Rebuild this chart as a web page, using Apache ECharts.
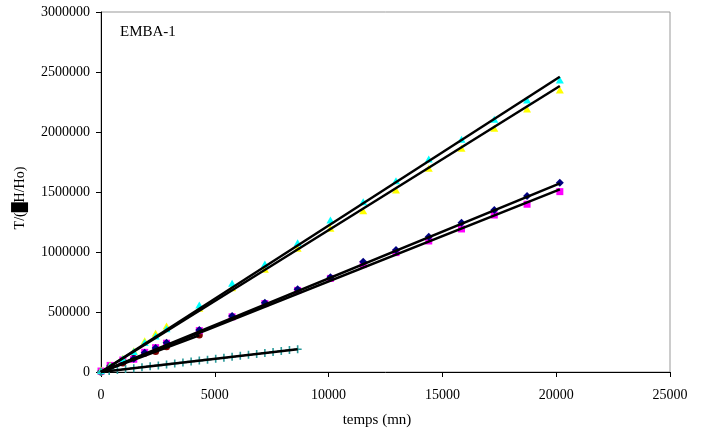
<!DOCTYPE html>
<html>
<head>
<meta charset="utf-8">
<script src="https://cdn.jsdelivr.net/npm/echarts@6/dist/echarts.min.js"></script>
<style>
html,body{margin:0;padding:0;background:#fff;}
#chart{width:707px;height:435px;}
</style>
</head>
<body>
<div id="chart"></div>
<script>
// Times (mn) for the main series
var times = [0, 400, 960, 1440, 1920, 2400, 2880, 4320, 5760, 7200, 8640, 10080, 11520, 12960, 14400, 15840, 17280, 18720, 20160];
var cyanValues = [10000, 50000, 110000, 170000, 245000, 300000, 360000, 558000, 739000, 900000, 1078000, 1267000, 1419000, 1594000, 1775000, 1939000, 2106000, 2267000, 2433000];
var yellowValues = [17000, 58000, 114000, 178000, 261000, 322000, 383000, 531000, 703000, 856000, 1031000, 1198000, 1344000, 1517000, 1698000, 1864000, 2031000, 2192000, 2350000];
var navyValues = [5000, 50000, 95000, 110000, 160000, 200000, 244000, 350000, 467000, 578000, 689000, 789000, 919000, 1017000, 1128000, 1244000, 1350000, 1467000, 1578000];
var magentaValues = [8000, 55000, 100000, 106000, 164000, 203000, 240000, 345000, 460000, 570000, 680000, 780000, 895000, 995000, 1092000, 1192000, 1308000, 1398000, 1503000];

var redTimes = [0, 400, 960, 1440, 1920, 2400, 2880, 4320];
var redValues = [0, 40000, 75000, 114000, 156000, 170000, 211000, 308000];

var tealTimes = [0, 360, 720, 1080, 1440, 1800, 2160, 2520, 2880, 3240, 3600, 3960, 4320, 4680, 5040, 5400, 5760, 6120, 6480, 6840, 7200, 7560, 7920, 8280, 8640];
var tealValues = [0, 8000, 16000, 24000, 32000, 40000, 48000, 55000, 63000, 71000, 79000, 87000, 95000, 103000, 111000, 119000, 127000, 135000, 143000, 151000, 159000, 167000, 175000, 183000, 190000];

// Trendline end points [time, value]
var trendCyan = [[0, 0], [20160, 2460000]];
var trendYellow = [[0, 0], [20160, 2383000]];
var trendNavy = [[0, 0], [20160, 1572000]];
var trendMagenta = [[0, 0], [20160, 1522000]];
var trendRed = [[0, 0], [4320, 305000]];
var trendTeal = [[0, 0], [8640, 190000]];

var xTicks = [0, 5000, 10000, 15000, 20000, 25000];
var yTicks = [0, 500000, 1000000, 1500000, 2000000, 2500000, 3000000];

var chartTitle = 'EMBA-1';
var xName = 'temps (mn)';
var yName = 'T/(\u2588H/Ho)';

function pairs(xs, ys) { return xs.map(function (x, i) { return [x, ys[i]]; }); }

var serif = '"Liberation Serif", "Times New Roman", serif';
var plusPath = 'path://M4,0H6V4H10V6H6V10H4V6H0V4H4Z';

function scatter(name, data, symbol, size, color, z) {
  return { name: name, type: 'scatter', data: data, symbol: symbol, symbolSize: size,
    itemStyle: { color: color, opacity: 1 }, z: z, silent: true, animation: false };
}
function trend(data) {
  return { type: 'line', data: data, showSymbol: false, symbol: 'none',
    lineStyle: { color: '#000', width: 2.5 }, z: 10, silent: true, animation: false };
}

var chart = echarts.init(document.getElementById('chart'), null, { renderer: 'canvas' });
chart.setOption({
  backgroundColor: '#fff',
  animation: false,
  grid: { left: 101, right: 37, top: 12, bottom: 63, show: true, borderColor: '#999', borderWidth: 1, backgroundColor: 'transparent' },
  xAxis: {
    type: 'value', min: xTicks[0], max: xTicks[xTicks.length - 1], interval: xTicks[1] - xTicks[0],
    axisLine: { show: true, onZero: false, lineStyle: { color: '#000', width: 1 } },
    axisTick: { show: true, inside: false, length: 5, lineStyle: { color: '#000' } },
    axisLabel: { color: '#000', fontFamily: serif, fontSize: 14, margin: 16, formatter: function (v) { return String(v); } },
    splitLine: { show: false }
  },
  yAxis: {
    type: 'value', min: yTicks[0], max: yTicks[yTicks.length - 1], interval: yTicks[1] - yTicks[0],
    axisLine: { show: true, onZero: false, lineStyle: { color: '#000', width: 1 } },
    axisTick: { show: true, inside: false, length: 5, lineStyle: { color: '#000' } },
    axisLabel: { color: '#000', fontFamily: serif, fontSize: 14, margin: 11, formatter: function (v) { return String(v); } },
    splitLine: { show: false }
  },
  graphic: [
    { type: 'text', left: 120, top: 25, style: { text: chartTitle, font: '15px ' + serif, fill: '#000' } },
    { type: 'text', x: 377, y: 420, style: { text: xName, font: '15px ' + serif, fill: '#000', textAlign: 'center', textVerticalAlign: 'middle' } },
    { type: 'text', x: 20, y: 198, rotation: Math.PI / 2, style: { text: yName, font: '14px ' + serif, fill: '#000', textAlign: 'center', textVerticalAlign: 'middle' } }
  ],
  series: [
    scatter('red', pairs(redTimes, redValues), 'circle', 7, '#800000', 2),
    scatter('magenta', pairs(times, magentaValues), 'rect', 7, '#ff00ff', 3),
    scatter('navy', pairs(times, navyValues), 'diamond', 8, '#000080', 4),
    scatter('yellow', pairs(times, yellowValues), 'triangle', [8, 7], '#ffff00', 5),
    scatter('cyan', pairs(times, cyanValues), 'triangle', [8, 7], '#00ffff', 6),
    scatter('teal', pairs(tealTimes, tealValues), plusPath, 8, '#2a9a9a', 7),
    trend(trendCyan), trend(trendYellow), trend(trendNavy), trend(trendMagenta), trend(trendRed), trend(trendTeal)
  ]
});
</script>
</body>
</html>
